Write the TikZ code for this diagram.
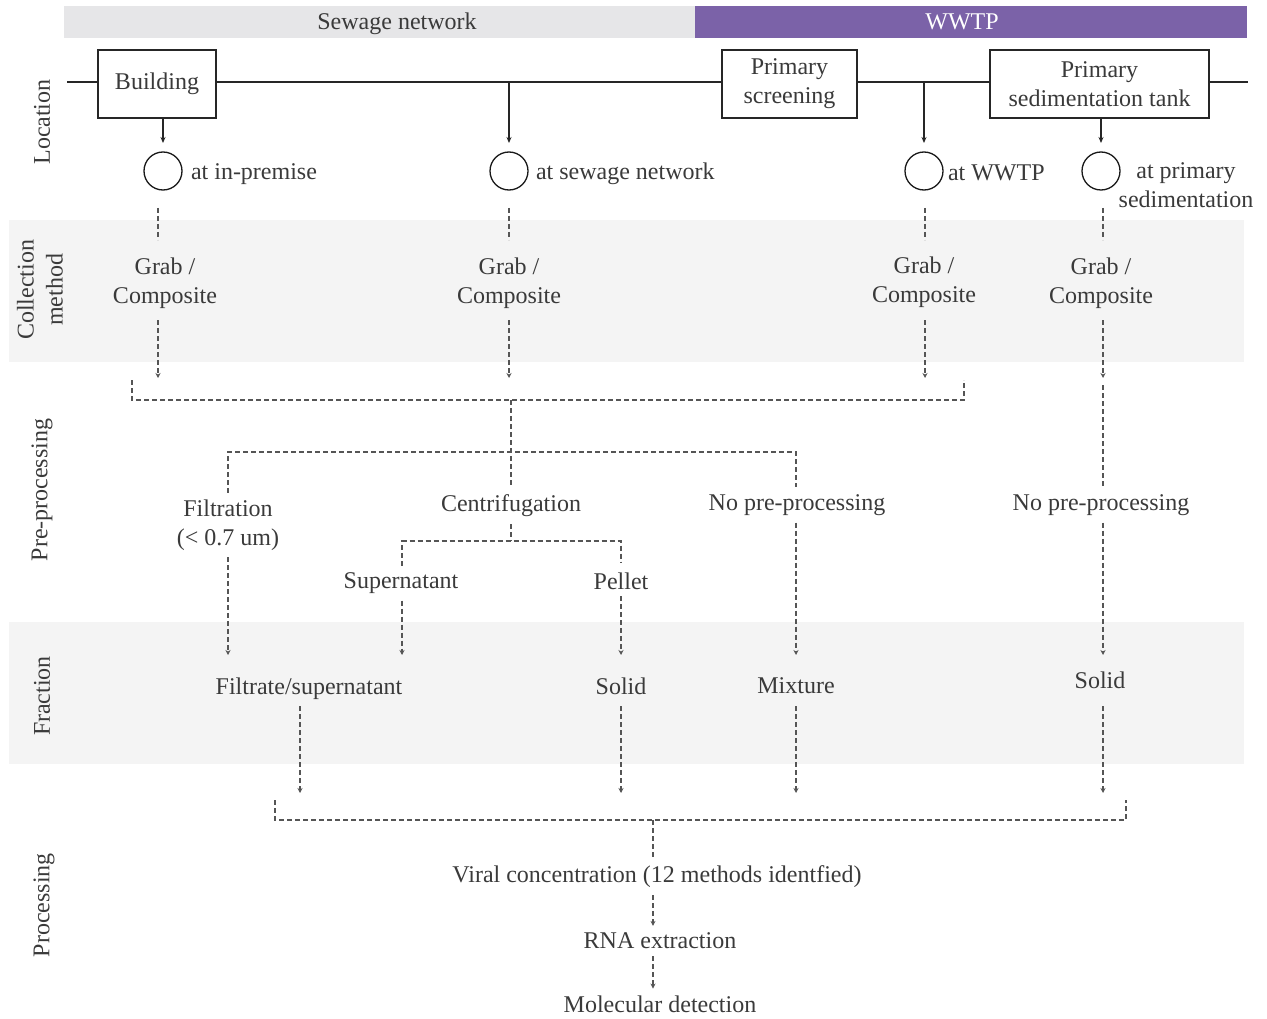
\documentclass[tikz,border=0pt]{standalone}
\usepackage{fontspec}
\setmainfont{Liberation Serif}
\usetikzlibrary{arrows.meta,calc}
\definecolor{txt}{HTML}{3A3A3A}
\definecolor{dcol}{HTML}{555555}
\definecolor{purp}{HTML}{7B62A8}
\definecolor{topgray}{HTML}{E6E6E8}
\definecolor{band}{HTML}{F4F4F4}
\begin{document}
\begin{tikzpicture}[x=1pt,y=-1pt,
  every node/.style={font=\fontsize{24}{29}\selectfont, text=txt, inner sep=4pt, outer sep=3pt},
  lbl/.style={align=center},
  boxn/.style={draw=black!85, line width=1.3pt, fill=white, minimum height=68pt, align=center, inner sep=2pt, outer sep=0pt},
  circ/.style={draw=black!90, line width=1.3pt, circle, minimum size=38pt, inner sep=0pt, outer sep=0pt},
  sline/.style={draw=black!85, line width=1.3pt},
  sarr/.style={sline, -{Stealth[length=6pt,width=5pt]}},
  dl/.style={draw=dcol, line width=1.2pt, dash pattern=on 5pt off 3pt},
  darr/.style={dl, -{Stealth[length=5pt,width=5pt]}},
  side/.style={rotate=90, align=center}
]
\useasboundingbox (0,0) rectangle (1267,1019);
% bands
\fill[topgray] (64,6) rectangle (695,38);
\fill[purp] (695,6) rectangle (1247,38);
\fill[band] (9,220) rectangle (1244,362);
\fill[band] (9,622) rectangle (1244,764);
\node (sewnet) at (397,24) {Sewage network};
\node[text=white] (wwtp) at (962,22) {WWTP};

% side labels
\node[side] (sLoc) at (42,122) {Location};
\node[side] (sCol) at (40,290) {Collection\\method};
\node[side] (sPre) at (42,490) {Pre-processing};
\node[side] (sFra) at (42,696) {Fraction};
\node[side] (sPro) at (44,905) {Processing};

% location line
\coordinate (L0) at (67,82);
\coordinate (L1) at (1248,82);
\node[boxn, minimum width=118pt] (build) at (157,84) {Building};
\node[boxn, minimum width=135pt] (screen) at (789.5,84) {\raisebox{-2pt}{\parbox{130pt}{\centering Primary\\screening}}};
\node[boxn, minimum width=219pt] (sedt) at (1099.5,84) {Primary\\sedimentation tank};
\draw[sline] (L0) -- (L0 -| build.west);
\draw[sline] (L0 -| build.east) -- (L0 -| screen.west);
\draw[sline] (L0 -| screen.east) -- (L0 -| sedt.west);
\draw[sline] (L0 -| sedt.east) -- (L1);

% circles
\node[circ] (c1) at (163,171) {};
\node[circ] (c2) at (509,171) {};
\node[circ] (c3) at (924,171) {};
\node[circ] (c4) at (1101,171) {};
\node[anchor=west] (t1) at (184,174) {at in-premise};
\node[anchor=west] (t2) at (529,174) {at sewage network};
\node[anchor=west] (t3) at (941,173) {at WWTP};
\node[lbl] (t4) at (1186,185) {at primary\\sedimentation};

\draw[sarr, shorten >=9pt] (build.south -| c1) -- (c1.north);
\draw[sarr, shorten >=9pt] (L0 -| c2) -- (c2.north);
\draw[sarr, shorten >=9pt] (L0 -| c3) -- (c3.north);
\draw[sarr, shorten >=9pt] (sedt.south -| c4) -- (c4.north);

% collection
\node[lbl] (g1) at (165,283) {Grab /\\Composite};
\node[lbl] (g2) at (509,283) {Grab /\\Composite};
\node[lbl] (g3) at (924,282) {Grab /\\Composite};
\node[lbl] (g4) at (1101,283) {Grab /\\Composite};

\coordinate (x1) at (158,0);
\coordinate (x2) at (509,0);
\coordinate (x3) at (925,0);
\coordinate (x4) at (1103,0);
\coordinate (ya) at (0,208);
\coordinate (yb) at (0,240);
\coordinate (yc) at (0,320);
\coordinate (yd) at (0,378);
\draw[dl] (x1 |- ya) -- (x1 |- yb);
\draw[dl] (x2 |- ya) -- (x2 |- yb);
\draw[dl] (x3 |- ya) -- (x3 |- yb);
\draw[dl] (x4 |- ya) -- (x4 |- yb);
\draw[darr] (x1 |- yc) -- (x1 |- yd);
\draw[darr] (x2 |- yc) -- (x2 |- yd);
\draw[darr] (x3 |- yc) -- (x3 |- yd);
\draw[darr] (x4 |- yc) -- (x4 |- yd);

% pre-processing
\coordinate (bA) at (132,380);
\coordinate (bB) at (132,400);
\coordinate (bC) at (964,400);
\coordinate (bD) at (964,380);
\coordinate (bM) at (511,400);
\coordinate (br2) at (511,452);
\coordinate (xf) at (228,0);
\coordinate (xn) at (796,0);
\draw[dl] (bA) -- (bB) -- (bC) -- (bD);
\node[lbl] (filt) at (228,525) {Filtration\\(< 0.7 um)};
\node (cent) at (511,506) {Centrifugation};
\node (np1) at (797,505) {No pre-processing};
\node (np2) at (1101,505) {No pre-processing};
\draw[dl] (bM) -- (cent.north);
\draw[dl] (filt.north -| xf) -- (br2 -| xf) -- (br2 -| xn) -- (np1.north -| xn);
\draw[dl] (x4 |- 0,385) -- (np2.north -| x4);

\coordinate (br3) at (511,541);
\coordinate (xs) at (402,0);
\coordinate (xp) at (621,0);
\node (sup) at (401,583) {Supernatant};
\node (pel) at (621,581) {Pellet};
\draw[dl] (cent.south) -- (br3);
\draw[dl, shorten >=4pt] (sup.north -| xs) -- (br3 -| xs) -- (br3 -| xp) -- (pel.north -| xp);

% fraction
\coordinate (ye) at (0,655);
\node (frs) at (309,689) {Filtrate/supernatant};
\node (sol1) at (621,686) {Solid};
\node (mix) at (796,686) {Mixture};
\node (sol2) at (1100,680) {Solid};
\draw[darr] (filt.south -| xf) -- (ye -| xf);
\draw[darr] (sup.south -| xs) -- (ye -| xs);
\draw[darr] (pel.south -| xp) -- (ye -| xp);
\draw[darr] (np1.south -| xn) -- (ye -| xn);
\draw[darr] (np2.south -| x4) -- (ye -| x4);

% processing
\coordinate (yf) at (0,706);
\coordinate (yg) at (0,793);
\coordinate (xr) at (300,0);
\draw[darr] (yf -| xr) -- (yg -| xr);
\draw[darr] (yf -| xp) -- (yg -| xp);
\draw[darr] (yf -| xn) -- (yg -| xn);
\draw[darr] (yf -| x4) -- (yg -| x4);
\coordinate (bE) at (275,800);
\coordinate (bF) at (275,820);
\coordinate (bG) at (1126,820);
\coordinate (bH) at (1126,800);
\coordinate (bN) at (653,820);
\draw[dl] (bE) -- (bF) -- (bG) -- (bH);
\node (vc) at (657,877) {Viral concentration (12 methods identfied)};
\node (rna) at (660,941) {RNA extraction};
\node (mol) at (660,1004) {Molecular detection};
\draw[dl] (bN) -- (vc.north -| bN);
\draw[darr] (vc.south -| bN) -- (rna.north -| bN);
\draw[darr] (rna.south -| bN) -- (mol.north -| bN);
\end{tikzpicture}
\end{document}
